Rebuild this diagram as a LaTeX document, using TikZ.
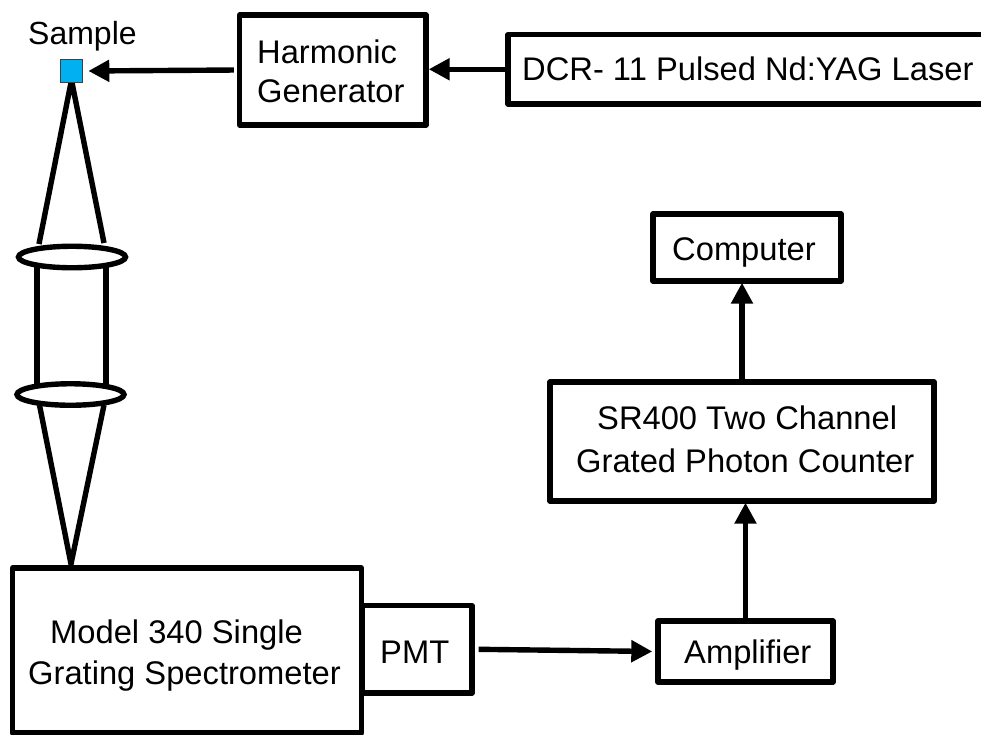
\documentclass[tikz,border=0pt]{standalone}
\usepackage{fontspec}
\setmainfont{Liberation Sans}
\usetikzlibrary{arrows.meta,shapes.geometric}
\tikzset{
 bx/.style={draw=black,fill=white,line width=5.4pt,line join=round,rectangle,inner sep=0pt},
 tx/.style={anchor=base west,inner sep=0pt,font=\fontsize{32.7}{40}\selectfont},
 ar/.style={line width=5.4pt,-{Triangle[length=21pt,width=21pt]}},
 ln/.style={line width=5.4pt},
 lens/.style={draw=black,line width=5.4pt,ellipse,minimum width=107,minimum height=21.5,inner sep=0pt}
}
\definecolor{smpblue}{HTML}{00B0F0}
\begin{document}
\begin{tikzpicture}[x=1pt,y=-1pt]
\useasboundingbox (0,0) rectangle (981,734);
\coordinate (apex) at (71.5,80);
\coordinate (bot) at (71,564);
\coordinate (c1l) at (39,244);
\coordinate (c1r) at (104,243);
\coordinate (v1l) at (37,267);
\coordinate (v1r) at (106,267);
\coordinate (v2l) at (37,385);
\coordinate (v2r) at (106,385);
\coordinate (c2l) at (39.5,405);
\coordinate (c2r) at (104,405);
\draw[ln,line join=miter] (c1l) -- (apex) -- (c1r);
\draw[ln] (v1l) -- (v2l) (v1r) -- (v2r);
\draw[ln,line join=miter] (c2l) -- (bot) -- (c2r);
\node[lens] (l1) at (72,257) {};
\node[lens] (l2) at (70.5,394.5) {};
\node[bx,minimum width=186.5,minimum height=110] (hg) at (332.75,70) {};
\node[bx,minimum width=510,minimum height=69.5] (laser) at (763,69.25) {};
\node[draw=black!75,fill=smpblue,line width=1.1pt,minimum size=22.5,inner sep=0pt] (smp) at (71.5,71) {};
\node[bx,minimum width=188,minimum height=67] (comp) at (747,247.5) {};
\node[bx,minimum width=384,minimum height=119] (sr) at (742,441.5) {};
\node[bx,minimum width=175,minimum height=61] (amp) at (745.5,651.5) {};
\node[bx,minimum width=349,minimum height=165] (spec) at (187,650.5) {};
\node[bx,minimum width=110,minimum height=87.5] (pmt) at (417,649.25) {};
\node[tx,font=\fontsize{32}{40}\selectfont] (tsmp) at (28,44) {Sample};
\node[tx] (thg1) at (257,63) {Harmonic};
\node[tx] (thg2) at (257,102) {Generator};
\node[tx] (tlaser) at (522,80) {DCR- 11 Pulsed Nd:YAG Laser};
\node[tx] (tcomp) at (672,260) {Computer};
\node[tx] (tsr1) at (597,429) {SR400 Two Channel};
\node[tx] (tsr2) at (576,472) {Grated Photon Counter};
\node[tx] (tamp) at (684,663) {Amplifier};
\node[tx] (tsp1) at (50,643) {Model 340 Single};
\node[tx] (tsp2) at (28,684) {Grating Spectrometer};
\node[tx] (tpmt) at (380,663) {PMT};
\draw[ar] (laser.west) -- (laser.west -| hg.east);
\draw[ar,shorten <=3pt,shorten >=5pt] (hg.west) -- (smp.east);
\draw[ar,shorten >=-1pt] (amp.north) -- (amp.north |- sr.south);
\draw[ar,line width=6.2pt,shorten >=-1pt] (sr.north) -- (sr.north |- comp.south);
\draw[ar,shorten <=4pt,shorten >=3pt] (pmt.east) -- (amp.west);
\end{tikzpicture}
\end{document}
